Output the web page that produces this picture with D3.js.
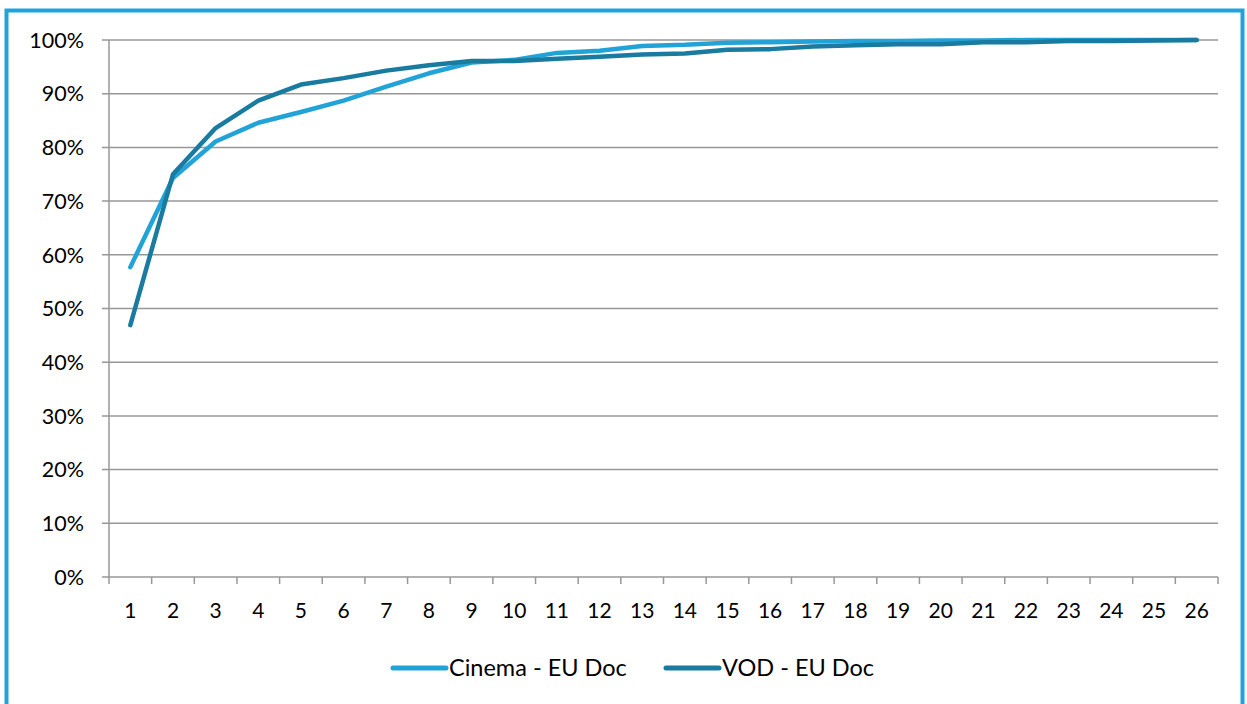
<!DOCTYPE html>
<html><head><meta charset="utf-8">
<script src="https://cdn.jsdelivr.net/npm/d3@7"></script>
<style>
html,body{margin:0;padding:0;background:#fff;}
svg{display:block;}
text{font-family:"Lato","Open Sans",sans-serif;fill:#000;}
</style></head>
<body>
<svg id="chart" width="1247" height="704"></svg>
<script>
const categories = d3.range(1, 27).map(String);
const yTicks = [0,10,20,30,40,50,60,70,80,90,100];
const cinema = [57.7,74.3,81.1,84.6,86.6,88.7,91.3,93.8,95.8,96.3,97.6,98.0,98.9,99.1,99.5,99.6,99.7,99.8,99.8,99.9,99.9,100,100,100,100,100];
const vod    = [46.9,75.0,83.6,88.7,91.7,92.9,94.3,95.3,96.1,96.1,96.5,96.9,97.3,97.5,98.2,98.3,98.8,99.0,99.2,99.2,99.6,99.6,99.8,99.8,99.9,100];
const seriesNames = ["Cinema - EU Doc","VOD - EU Doc"];
const seriesColors = ["#22a3d7","#187b9f"];

const svg = d3.select("#chart");
// outer frame
svg.append("rect").attr("x",6.5).attr("y",10.5).attr("width",1236).attr("height",700)
  .attr("fill","none").attr("stroke","#22a3d7").attr("stroke-width",4);

const L=109, R=1218, T=40, B=577;
const x = d3.scaleBand().domain(categories).range([L,R]);
const y = d3.scaleLinear().domain([0,100]).range([B,T]);

// gridlines
svg.append("g").selectAll("line").data(yTicks).join("line")
  .attr("x1",L-7).attr("x2",R).attr("y1",d=>y(d)).attr("y2",d=>y(d))
  .attr("stroke","#979797").attr("stroke-width",1.5);
// y axis line
svg.append("line").attr("x1",L).attr("x2",L).attr("y1",T).attr("y2",B)
  .attr("stroke","#979797").attr("stroke-width",1.5);
// y labels
svg.append("g").selectAll("text").data(yTicks).join("text")
  .attr("x",L-25).attr("y",d=>y(d)).attr("dy","0.36em").attr("text-anchor","end")
  .attr("font-size",21.5).text(d=>d+"%");
// x ticks
const xb = d3.range(0,27).map(i=>L+i*x.bandwidth());
svg.append("g").selectAll("line").data(xb).join("line")
  .attr("x1",d=>d).attr("x2",d=>d).attr("y1",B).attr("y2",B+7)
  .attr("stroke","#979797").attr("stroke-width",1.5);
svg.append("g").selectAll("text").data(categories).join("text")
  .attr("x",d=>x(d)+x.bandwidth()/2).attr("y",610).attr("dy","0.36em").attr("text-anchor","middle")
  .attr("font-size",21).text(d=>d);

const line = d3.line().x((d,i)=>x(categories[i])+x.bandwidth()/2).y(d=>y(d));
[cinema,vod].forEach((s,k)=>{
  svg.append("path").datum(s).attr("d",line).attr("fill","none")
    .attr("stroke",seriesColors[k]).attr("stroke-width",4.5)
    .attr("stroke-linejoin","round").attr("stroke-linecap","round");
});

// legend
const leg = [{x:393,t:449},{x:666,t:722}];
seriesNames.forEach((n,k)=>{
  svg.append("line").attr("x1",leg[k].x).attr("x2",leg[k].x+53).attr("y1",668).attr("y2",668)
    .attr("stroke",seriesColors[k]).attr("stroke-width",5).attr("stroke-linecap","round");
  svg.append("text").attr("x",leg[k].t).attr("y",668).attr("dy","0.36em").attr("font-size",23.5).text(n);
});
</script>
</body></html>
